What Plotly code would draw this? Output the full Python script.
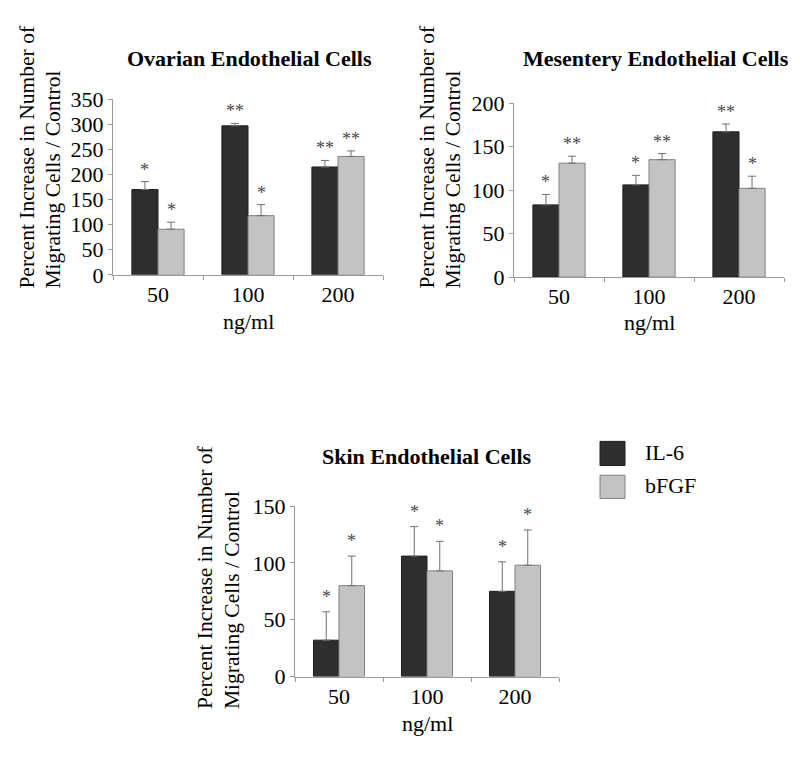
import plotly.graph_objects as go

# ---------------- data ----------------
doses = ["50", "100", "200"]
series_names = ["IL-6", "bFGF"]

ovarian_il6 = [170, 297, 215]
ovarian_il6_err = [16, 5, 13]
ovarian_bfgf = [91, 118, 236]
ovarian_bfgf_err = [14, 22, 11]
ovarian_il6_sig = ["*", "**", "**"]
ovarian_bfgf_sig = ["*", "*", "**"]

mesentery_il6 = [83, 106, 167]
mesentery_il6_err = [12, 11, 9]
mesentery_bfgf = [131, 135, 102]
mesentery_bfgf_err = [8, 7, 14]
mesentery_il6_sig = ["*", "*", "**"]
mesentery_bfgf_sig = ["**", "**", "*"]

skin_il6 = [32, 106, 75]
skin_il6_err = [25, 26, 26]
skin_bfgf = [80, 93, 98]
skin_bfgf_err = [26, 26, 31]
skin_il6_sig = ["*", "*", "*"]
skin_bfgf_sig = ["*", "*", "*"]

titles = ["Ovarian Endothelial Cells", "Mesentery Endothelial Cells", "Skin Endothelial Cells"]
y_title_lines = ["Percent Increase in Number of", "Migrating Cells / Control"]
x_title = "ng/ml"
y_max = [350, 200, 150]

# ---------------- style / layout ----------------
# the page body has an 8px margin, so the figure is placed at (8, 8)
OFF = 8
W, H = 800 - 2 * OFF, 762 - 2 * OFF
FONT = "Liberation Serif"
DARK = "#2e2e2e"
LIGHT = "#c3c3c3"
AX = "#9a9a9a"
BARGAP = 0.42
TICK_SIZE = 22


def px(x):
    return (x - OFF) / W


def py(y):
    return 1 - (y - OFF) / H


panels = [
    dict(il6=ovarian_il6, il6e=ovarian_il6_err, bf=ovarian_bfgf, bfe=ovarian_bfgf_err,
         il6s=ovarian_il6_sig, bfs=ovarian_bfgf_sig,
         xdom=(113, 383), ydom=(271.7, 90), title_xy=(249, 48),
         ytl=(27, 53, 288), xt_y=320, star_off=16),
    dict(il6=mesentery_il6, il6e=mesentery_il6_err, bf=mesentery_bfgf, bfe=mesentery_bfgf_err,
         il6s=mesentery_il6_sig, bfs=mesentery_bfgf_sig,
         xdom=(514, 784), ydom=(274, 94), title_xy=(656, 48),
         ytl=(427, 453, 288), xt_y=321, star_off=16),
    dict(il6=skin_il6, il6e=skin_il6_err, bf=skin_bfgf, bfe=skin_bfgf_err,
         il6s=skin_il6_sig, bfs=skin_bfgf_sig,
         xdom=(295, 559), ydom=(687.3, 511), title_xy=(427, 460),
         ytl=(205, 232, 723), xt_y=736, star_off=19),
]

fig = go.Figure()
annotations = []
shapes = []
bw = (1 - BARGAP) / 2

for k, p in enumerate(panels):
    sfx = "" if k == 0 else str(k + 1)
    xa, ya = "x" + sfx, "y" + sfx
    for vals, errs, col, lcol, name in [
        (p["il6"], p["il6e"], DARK, "#1e1e1e", series_names[0]),
        (p["bf"], p["bfe"], LIGHT, "#808080", series_names[1]),
    ]:
        fig.add_trace(go.Bar(
            x=doses, y=vals, name=name, xaxis=xa, yaxis=ya, showlegend=False,
            marker=dict(color=col, line=dict(color=lcol, width=1)),
            error_y=dict(type="data", symmetric=False, array=errs,
                         arrayminus=[0] * len(errs), color="#707070",
                         thickness=1, width=4),
        ))
    # significance stars
    for i in range(len(doses)):
        for off, vals, errs, sig in [(-bw / 2, p["il6"], p["il6e"], p["il6s"]),
                                     (bw / 2, p["bf"], p["bfe"], p["bfs"])]:
            annotations.append(dict(
                x=i + off, y=vals[i] + errs[i], xref=xa, yref=ya,
                text=sig[i], showarrow=False, xanchor="center", yanchor="middle",
                yshift=p["star_off"] - 4,
                font=dict(family=FONT, size=18, color="#4a4a4a")))
    # layout axes
    fig.layout["xaxis" + sfx] = dict(
        domain=[px(p["xdom"][0]), px(p["xdom"][1])], anchor=ya, type="category",
        range=[-0.5, 2.5], showline=True, linecolor=AX, linewidth=1,
        ticks="outside", tickson="boundaries", ticklen=4, tickcolor=AX,
        tickfont=dict(family=FONT, size=TICK_SIZE, color="black"), showgrid=False,
        zeroline=False, fixedrange=True)
    fig.layout["yaxis" + sfx] = dict(
        domain=[py(p["ydom"][0]), py(p["ydom"][1])], anchor=xa,
        range=[0, y_max[k]], dtick=50, showline=True, linecolor=AX, linewidth=1,
        ticks="outside", ticklen=4, tickcolor=AX,
        tickfont=dict(family=FONT, size=TICK_SIZE, color="black"), showgrid=False,
        zeroline=False, fixedrange=True)
    # panel title
    annotations.append(dict(
        x=px(p["title_xy"][0]), y=py(p["title_xy"][1]), xref="paper", yref="paper",
        text="<b>" + titles[k] + "</b>", showarrow=False, xanchor="center", yanchor="middle",
        font=dict(family=FONT, size=22, color="black")))
    # x title
    annotations.append(dict(
        x=px((p["xdom"][0] + p["xdom"][1]) / 2), y=py(p["xt_y"]), xref="paper", yref="paper",
        text=x_title, showarrow=False, xanchor="center", yanchor="middle", borderpad=0,
        font=dict(family=FONT, size=TICK_SIZE, color="black")))
    # y title (two lines, bottom aligned)
    for j, line in enumerate(y_title_lines):
        annotations.append(dict(
            x=px(p["ytl"][j]), y=py(p["ytl"][2]), xref="paper", yref="paper",
            text=line, showarrow=False, textangle=-90, xanchor="center", yanchor="bottom",
            font=dict(family=FONT, size=21.5, color="black")))

# manual legend
legend_items = [(series_names[0], DARK, "#1e1e1e", 444, 469),
                (series_names[1], LIGHT, "#808080", 479, 503)]
for name, col, lcol, y0, y1 in legend_items:
    shapes.append(dict(type="rect", xref="paper", yref="paper",
                       x0=px(600), x1=px(625), y0=py(y1), y1=py(y0),
                       fillcolor=col, line=dict(color=lcol, width=1)))
    annotations.append(dict(
        x=px(643), y=py((y0 + y1) / 2 - 1), xref="paper", yref="paper", text=name,
        showarrow=False, xanchor="left", yanchor="middle",
        font=dict(family=FONT, size=22, color="black")))

fig.update_layout(
    width=W, height=H, autosize=False,
    margin=dict(l=0, r=0, t=0, b=0, pad=0),
    paper_bgcolor="white", plot_bgcolor="white",
    barmode="group", bargap=BARGAP, bargroupgap=0,
    annotations=annotations, shapes=shapes,
    font=dict(family=FONT, color="black"),
)

fig.write_html("out.html")
